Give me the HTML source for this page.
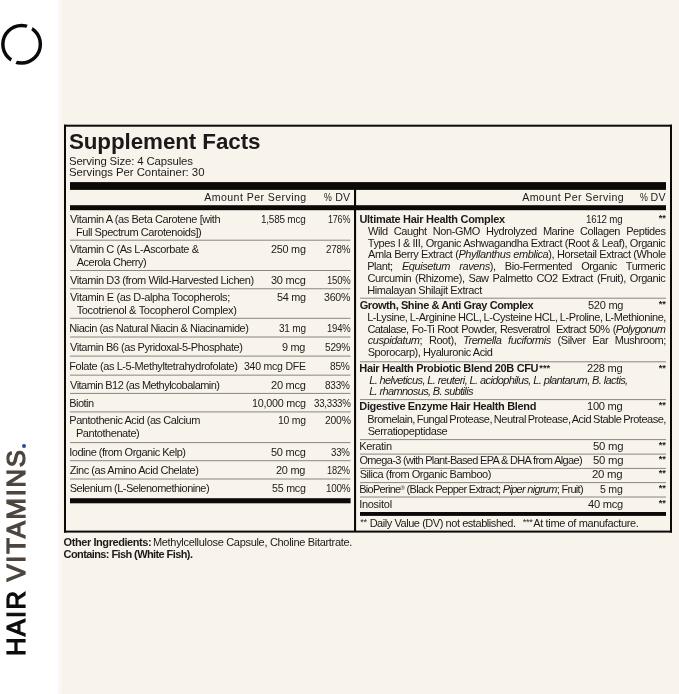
<!DOCTYPE html>
<html><head><meta charset='utf-8'><title>Supplement Facts</title><style>
html,body{margin:0;padding:0}
body{width:679px;height:694px;position:relative;overflow:hidden;background:#f8f4ec;font-family:"Liberation Sans",sans-serif;color:#1c1a18}
.t{position:absolute;white-space:pre;line-height:1;font-size:11px}
.t u{display:inline-block;width:0;height:0;vertical-align:baseline}
.t i{font-style:italic}
.r{position:absolute}
.txt{position:absolute;left:0;top:0;width:679px;height:694px;will-change:transform}
.side{position:absolute;left:0;top:0;width:57px;height:694px;background:#fff}
.side2{position:absolute;left:57px;top:0;width:5px;height:694px;background:linear-gradient(90deg,#fdfcfa,#f9f6f0)}
.dot{position:absolute;left:21.7px;top:443.9px;width:4.6px;height:4.6px;border-radius:50%;background:#2749a8}
</style></head><body>
<div class='side'></div><div class='side2'></div>
<svg class='r' style='left:0;top:18px' width='48' height='54' viewBox='0 18 48 54'><circle cx='21.6' cy='44.3' r='18.75' fill='none' stroke='#0b0a09' stroke-width='3.5'/><line x1='32.63' y1='20.76' x2='10.57' y2='67.84' stroke='#fff' stroke-width='5.5'/></svg>
<div class='dot'></div>
<svg class='r' style='left:0;top:0' width='679' height='694' viewBox='0 0 679 694'><rect x='64' y='124.70' width='608.00' height='2.00' fill='#0b0a09'/><rect x='64' y='530.60' width='608.00' height='2.00' fill='#0b0a09'/><rect x='64' y='124.70' width='2.00' height='407.90' fill='#0b0a09'/><rect x='670' y='124.70' width='2.00' height='407.90' fill='#0b0a09'/><rect x='70' y='182.10' width='596.00' height='7.80' fill='#0b0a09'/><rect x='70' y='205.20' width='596.00' height='5.00' fill='#0b0a09'/><rect x='354' y='189.00' width='2.10' height='343.00' fill='#0b0a09'/><rect x='70' y='498.20' width='280.60' height='5.10' fill='#0b0a09'/><rect x='360' y='512.00' width='306.00' height='3.90' fill='#0b0a09'/><rect x='70' y='239.70' width='280.50' height='1.00' fill='#8a8680'/><rect x='70' y='270.00' width='280.50' height='1.00' fill='#8a8680'/><rect x='70' y='288.25' width='280.50' height='1.00' fill='#8a8680'/><rect x='70' y='317.80' width='280.50' height='1.00' fill='#8a8680'/><rect x='70' y='336.50' width='280.50' height='1.00' fill='#8a8680'/><rect x='70' y='355.60' width='280.50' height='1.00' fill='#8a8680'/><rect x='70' y='374.65' width='280.50' height='1.00' fill='#8a8680'/><rect x='70' y='392.90' width='280.50' height='1.00' fill='#8a8680'/><rect x='70' y='411.40' width='280.50' height='1.00' fill='#8a8680'/><rect x='70' y='442.10' width='280.50' height='1.00' fill='#8a8680'/><rect x='70' y='460.20' width='280.50' height='1.00' fill='#8a8680'/><rect x='70' y='478.50' width='280.50' height='1.00' fill='#8a8680'/><rect x='360' y='297.70' width='306.00' height='1.00' fill='#8a8680'/><rect x='360' y='361.30' width='306.00' height='1.00' fill='#8a8680'/><rect x='360' y='399.10' width='306.00' height='1.00' fill='#8a8680'/><rect x='360' y='439.10' width='306.00' height='1.00' fill='#8a8680'/><rect x='360' y='453.60' width='306.00' height='1.00' fill='#8a8680'/><rect x='360' y='467.90' width='306.00' height='1.00' fill='#8a8680'/><rect x='360' y='482.10' width='306.00' height='1.00' fill='#8a8680'/><rect x='360' y='496.50' width='306.00' height='1.00' fill='#8a8680'/></svg>
<div class='txt'><span class='t' style='font-size:22.4px;font-weight:700;letter-spacing:-0.087px;left:68.95px;top:130.60px'>Supplement Facts</span>
<span class='t' style='font-size:11.4px;font-weight:400;letter-spacing:-0.141px;left:68.94px;top:155.90px'>Serving Size: 4 Capsules</span>
<span class='t' style='font-size:11.4px;font-weight:400;letter-spacing:-0.049px;left:68.94px;top:166.60px'>Servings Per Container: 30</span>
<span class='t' style='font-size:10.6px;font-weight:400;letter-spacing:0.428px;left:204.20px;top:192.00px'>Amount Per Serving</span>
<span class='t' style='font-size:10.6px;font-weight:400;letter-spacing:-0.25px;transform-origin:0 0;transform:scaleX(0.8319);left:324.22px;top:192.00px'>%</span>
<span class='t' style='font-size:10.6px;font-weight:400;letter-spacing:0.158px;left:335.17px;top:192.00px'>DV</span>
<span class='t' style='font-size:10.6px;font-weight:400;letter-spacing:0.387px;left:522.20px;top:192.00px'>Amount Per Serving</span>
<span class='t' style='font-size:10.6px;font-weight:400;letter-spacing:-0.25px;transform-origin:0 0;transform:scaleX(0.8319);left:639.52px;top:192.00px'>%</span>
<span class='t' style='font-size:10.6px;font-weight:400;letter-spacing:0.258px;left:650.57px;top:192.00px'>DV</span>
<span class='t' style='font-size:11px;font-weight:400;letter-spacing:-0.411px;left:70.10px;top:213.80px'>Vitamin A (as Beta Carotene [with</span>
<span class='t' style='font-size:11px;font-weight:400;letter-spacing:-0.428px;left:75.94px;top:226.80px'>Full Spectrum Carotenoids])</span>
<span class='t' style='font-size:11px;font-weight:400;letter-spacing:-0.25px;transform-origin:0 0;transform:scaleX(0.9049);left:260.98px;top:213.80px'>1,585 mcg</span>
<span class='t' style='font-size:11px;font-weight:400;letter-spacing:-0.25px;transform-origin:0 0;transform:scaleX(0.8189);left:327.94px;top:213.80px'>176%</span>
<span class='t' style='font-size:11px;font-weight:400;letter-spacing:-0.418px;left:70.10px;top:243.60px'>Vitamin C (As L-Ascorbate &amp;</span>
<span class='t' style='font-size:11px;font-weight:400;letter-spacing:-0.519px;left:76.80px;top:256.60px'>Acerola Cherry)</span>
<span class='t' style='font-size:11px;font-weight:400;letter-spacing:-0.25px;transform-origin:0 0;transform:scaleX(0.9849);left:270.79px;top:243.60px'>250 mg</span>
<span class='t' style='font-size:11px;font-weight:400;letter-spacing:-0.25px;transform-origin:0 0;transform:scaleX(0.8927);left:325.94px;top:243.60px'>278%</span>
<span class='t' style='font-size:11px;font-weight:400;letter-spacing:-0.411px;left:70.10px;top:274.70px'>Vitamin D3 (from Wild-Harvested Lichen)</span>
<span class='t' style='font-size:11px;font-weight:400;letter-spacing:-0.25px;transform-origin:0 0;transform:scaleX(0.9980);left:270.96px;top:274.70px'>30 mcg</span>
<span class='t' style='font-size:11px;font-weight:400;letter-spacing:-0.25px;transform-origin:0 0;transform:scaleX(0.8644);left:326.71px;top:274.70px'>150%</span>
<span class='t' style='font-size:11px;font-weight:400;letter-spacing:-0.360px;left:70.10px;top:292.40px'>Vitamin E (as D-alpha Tocopherols;</span>
<span class='t' style='font-size:11px;font-weight:400;letter-spacing:-0.314px;left:76.63px;top:305.20px'>Tocotrienol &amp; Tocopherol Complex)</span>
<span class='t' style='font-size:11px;font-weight:400;letter-spacing:-0.25px;transform-origin:0 0;transform:scaleX(0.9854);left:276.56px;top:292.40px'>54 mg</span>
<span class='t' style='font-size:11px;font-weight:400;letter-spacing:-0.25px;transform-origin:0 0;transform:scaleX(0.9619);left:324.07px;top:292.40px'>360%</span>
<span class='t' style='font-size:11px;font-weight:400;letter-spacing:-0.489px;left:69.24px;top:323.00px'>Niacin (as Natural Niacin &amp; Niacinamide)</span>
<span class='t' style='font-size:11px;font-weight:400;letter-spacing:-0.25px;transform-origin:0 0;transform:scaleX(0.9121);left:278.69px;top:323.00px'>31 mg</span>
<span class='t' style='font-size:11px;font-weight:400;letter-spacing:-0.25px;transform-origin:0 0;transform:scaleX(0.8644);left:326.71px;top:323.00px'>194%</span>
<span class='t' style='font-size:11px;font-weight:400;letter-spacing:-0.458px;left:70.10px;top:342.20px'>Vitamin B6 (as Pyridoxal-5-Phosphate)</span>
<span class='t' style='font-size:11px;font-weight:400;letter-spacing:-0.25px;transform-origin:0 0;transform:scaleX(0.9874);left:282.29px;top:342.20px'>9 mg</span>
<span class='t' style='font-size:11px;font-weight:400;letter-spacing:-0.25px;transform-origin:0 0;transform:scaleX(0.9207);left:325.18px;top:342.20px'>529%</span>
<span class='t' style='font-size:11px;font-weight:400;letter-spacing:-0.414px;left:69.24px;top:361.00px'>Folate (as L-5-Methyltetrahydrofolate)</span>
<span class='t' style='font-size:11px;font-weight:400;letter-spacing:-0.25px;transform-origin:0 0;transform:scaleX(0.9571);left:243.57px;top:361.00px'>340 mcg DFE</span>
<span class='t' style='font-size:11px;font-weight:400;letter-spacing:-0.25px;transform-origin:0 0;transform:scaleX(0.9252);left:330.48px;top:361.00px'>85%</span>
<span class='t' style='font-size:11px;font-weight:400;letter-spacing:-0.543px;left:70.10px;top:379.80px'>Vitamin B12 (as Methylcobalamin)</span>
<span class='t' style='font-size:11px;font-weight:400;letter-spacing:-0.25px;transform-origin:0 0;transform:scaleX(1.0031);left:270.78px;top:379.80px'>20 mcg</span>
<span class='t' style='font-size:11px;font-weight:400;letter-spacing:-0.25px;transform-origin:0 0;transform:scaleX(0.9095);left:325.49px;top:379.80px'>833%</span>
<span class='t' style='font-size:11px;font-weight:400;letter-spacing:-0.551px;left:69.24px;top:397.60px'>Biotin</span>
<span class='t' style='font-size:11px;font-weight:400;letter-spacing:-0.25px;transform-origin:0 0;transform:scaleX(0.9791);left:251.63px;top:397.60px'>10,000 mcg</span>
<span class='t' style='font-size:11px;font-weight:400;letter-spacing:-0.25px;transform-origin:0 0;transform:scaleX(0.8797);left:313.50px;top:397.60px'>33,333%</span>
<span class='t' style='font-size:11px;font-weight:400;letter-spacing:-0.443px;left:69.24px;top:414.70px'>Pantothenic Acid (as Calcium</span>
<span class='t' style='font-size:11px;font-weight:400;letter-spacing:-0.441px;left:75.94px;top:427.80px'>Pantothenate)</span>
<span class='t' style='font-size:11px;font-weight:400;letter-spacing:-0.25px;transform-origin:0 0;transform:scaleX(0.9479);left:277.65px;top:414.70px'>10 mg</span>
<span class='t' style='font-size:11px;font-weight:400;letter-spacing:-0.25px;transform-origin:0 0;transform:scaleX(0.9455);left:324.51px;top:414.70px'>200%</span>
<span class='t' style='font-size:11px;font-weight:400;letter-spacing:-0.491px;left:69.24px;top:446.50px'>Iodine (from Organic Kelp)</span>
<span class='t' style='font-size:11px;font-weight:400;letter-spacing:-0.25px;transform-origin:0 0;transform:scaleX(0.9980);left:270.96px;top:446.50px'>50 mcg</span>
<span class='t' style='font-size:11px;font-weight:400;letter-spacing:-0.25px;transform-origin:0 0;transform:scaleX(0.8821);left:331.40px;top:446.50px'>33%</span>
<span class='t' style='font-size:11px;font-weight:400;letter-spacing:-0.449px;left:69.76px;top:464.90px'>Zinc (as Amino Acid Chelate)</span>
<span class='t' style='font-size:11px;font-weight:400;letter-spacing:-0.25px;transform-origin:0 0;transform:scaleX(0.9914);left:276.39px;top:464.90px'>20 mg</span>
<span class='t' style='font-size:11px;font-weight:400;letter-spacing:-0.25px;transform-origin:0 0;transform:scaleX(0.8417);left:327.32px;top:464.90px'>182%</span>
<span class='t' style='font-size:11px;font-weight:400;letter-spacing:-0.510px;left:69.76px;top:483.40px'>Selenium (L-Selenomethionine)</span>
<span class='t' style='font-size:11px;font-weight:400;letter-spacing:-0.25px;transform-origin:0 0;transform:scaleX(0.9715);left:271.87px;top:483.40px'>55 mcg</span>
<span class='t' style='font-size:11px;font-weight:400;letter-spacing:-0.25px;transform-origin:0 0;transform:scaleX(0.8986);left:325.78px;top:483.40px'>100%</span>
<span class='t' style='font-size:11px;font-weight:700;letter-spacing:-0.311px;left:359.48px;top:213.50px'>Ultimate Hair Health Complex</span>
<span class='t' style='font-size:11px;font-weight:400;letter-spacing:-0.25px;transform-origin:0 0;transform:scaleX(0.8848);left:586.49px;top:213.50px'>1612 mg</span>
<span class='t' style='font-size:9.2px;font-weight:700;left:658.63px;top:213.60px'>**</span>
<span class='t' style='font-size:11px;font-weight:400;letter-spacing:-0.430px;word-spacing:3.496px;left:368.00px;top:225.60px'>Wild Caught Non-GMO Hydrolyzed Marine Collagen Peptides</span>
<span class='t' style='font-size:11px;font-weight:400;letter-spacing:-0.430px;word-spacing:0.018px;left:367.83px;top:237.50px'>Types I &amp; III, Organic Ashwagandha Extract (Root &amp; Leaf), Organic</span>
<span class='t' style='font-size:11px;font-weight:400;letter-spacing:-0.430px;word-spacing:0.196px;left:368.00px;top:249.30px'>Amla Berry Extract (<i>Phyllanthus emblica</i>), Horsetail Extract (Whole</span>
<span class='t' style='font-size:11px;font-weight:400;letter-spacing:-0.430px;word-spacing:6.622px;left:367.14px;top:261.10px'>Plant; <i>Equisetum ravens</i>), Bio-Fermented Organic Turmeric</span>
<span class='t' style='font-size:11px;font-weight:400;letter-spacing:-0.430px;word-spacing:1.325px;left:367.48px;top:272.90px'>Curcumin (Rhizome), Saw Palmetto CO2 Extract (Fruit), Organic</span>
<span class='t' style='font-size:11px;font-weight:400;letter-spacing:-0.384px;left:367.14px;top:284.80px'>Himalayan Shilajit Extract</span>
<span class='t' style='font-size:11px;font-weight:700;letter-spacing:-0.414px;left:359.66px;top:299.90px'>Growth, Shine &amp; Anti Gray Complex</span>
<span class='t' style='font-size:11px;font-weight:400;letter-spacing:-0.25px;transform-origin:0 0;transform:scaleX(1.0002);left:587.66px;top:299.90px'>520 mg</span>
<span class='t' style='font-size:9.2px;font-weight:700;left:658.63px;top:300.00px'>**</span>
<span class='t' style='font-size:11px;font-weight:400;letter-spacing:-0.430px;word-spacing:-0.318px;left:367.14px;top:311.80px'>L-Lysine, L-Arginine HCL, L-Cysteine HCL, L-Proline, L-Methionine,</span>
<span class='t' style='font-size:11px;font-weight:400;letter-spacing:-0.600px;word-spacing:0.744px;left:367.48px;top:323.60px'>Catalase, Fo-Ti Root Powder, Resveratrol&nbsp; Extract 50% (<i>Polygonum</i></span>
<span class='t' style='font-size:11px;font-weight:400;letter-spacing:-0.430px;word-spacing:4.028px;left:367.66px;top:335.40px'><i>cuspidatum</i>; Root), <i>Tremella fuciformis</i> (Silver Ear Mushroom;</span>
<span class='t' style='font-size:11px;font-weight:400;letter-spacing:-0.426px;left:367.66px;top:347.20px'>Sporocarp), Hyaluronic Acid</span>
<span class='t' style='font-size:11px;font-weight:700;letter-spacing:-0.355px;left:359.31px;top:363.40px'>Hair Health Probiotic Blend 20B CFU</span>
<span class='t' style='font-size:11px;font-weight:400;letter-spacing:-0.25px;transform-origin:0 0;transform:scaleX(1.0052);left:587.48px;top:363.40px'>228 mg</span>
<span class='t' style='font-size:9.2px;font-weight:700;left:658.63px;top:363.50px'>**</span>
<span class='t' style='font-size:9.2px;font-weight:700;letter-spacing:0.126px;left:539.20px;top:363.50px'>***</span>
<span class='t' style='font-size:11px;font-weight:400;letter-spacing:-0.605px;left:369.13px;top:374.80px'><i>L. helveticus, L. reuteri, L. acidophilus, L. plantarum, B. lactis,</i></span>
<span class='t' style='font-size:11px;font-weight:400;letter-spacing:-0.646px;left:369.13px;top:386.00px'><i>L. rhamnosus, B. subtilis</i></span>
<span class='t' style='font-size:11px;font-weight:700;letter-spacing:-0.339px;left:359.31px;top:401.00px'>Digestive Enzyme Hair Health Blend</span>
<span class='t' style='font-size:11px;font-weight:400;letter-spacing:-0.25px;transform-origin:0 0;transform:scaleX(1.0103);left:587.31px;top:401.00px'>100 mg</span>
<span class='t' style='font-size:9.2px;font-weight:700;left:658.63px;top:401.10px'>**</span>
<span class='t' style='font-size:11px;font-weight:400;letter-spacing:-0.487px;word-spacing:-0.700px;left:367.14px;top:414.10px'>Bromelain, Fungal Protease, Neutral Protease, Acid Stable Protease,</span>
<span class='t' style='font-size:11px;font-weight:400;letter-spacing:-0.384px;left:367.66px;top:425.70px'>Serratiopeptidase</span>
<span class='t' style='font-size:11px;font-weight:400;letter-spacing:-0.330px;left:359.14px;top:441.10px'>Keratin</span>
<span class='t' style='font-size:11px;font-weight:400;letter-spacing:-0.25px;transform-origin:0 0;transform:scaleX(1.0309);left:592.65px;top:441.10px'>50 mg</span>
<span class='t' style='font-size:9.2px;font-weight:700;left:658.63px;top:441.20px'>**</span>
<span class='t' style='font-size:11px;font-weight:400;letter-spacing:-0.675px;left:359.48px;top:454.90px'>Omega-3 (with Plant-Based EPA &amp; DHA from Algae)</span>
<span class='t' style='font-size:11px;font-weight:400;letter-spacing:-0.25px;transform-origin:0 0;transform:scaleX(1.0309);left:592.65px;top:454.90px'>50 mg</span>
<span class='t' style='font-size:9.2px;font-weight:700;left:658.63px;top:455.00px'>**</span>
<span class='t' style='font-size:11px;font-weight:400;letter-spacing:-0.465px;left:359.66px;top:469.30px'>Silica (from Organic Bamboo)</span>
<span class='t' style='font-size:11px;font-weight:400;letter-spacing:-0.25px;transform-origin:0 0;transform:scaleX(1.0371);left:592.47px;top:469.30px'>20 mg</span>
<span class='t' style='font-size:9.2px;font-weight:700;left:658.63px;top:469.40px'>**</span>
<span class='t' style='font-size:11px;font-weight:400;letter-spacing:-0.705px;left:359.14px;top:483.70px'>BioPerine<span style='font-size:6px;vertical-align:3px'>&reg;</span> (Black Pepper Extract; <i>Piper nigrum</i>; Fruit)</span>
<span class='t' style='font-size:11px;font-weight:400;letter-spacing:-0.25px;transform-origin:0 0;transform:scaleX(0.9623);left:600.27px;top:483.70px'>5 mg</span>
<span class='t' style='font-size:9.2px;font-weight:700;left:658.63px;top:483.80px'>**</span>
<span class='t' style='font-size:11px;font-weight:400;letter-spacing:-0.268px;left:359.14px;top:498.70px'>Inositol</span>
<span class='t' style='font-size:11px;font-weight:400;letter-spacing:-0.25px;transform-origin:0 0;transform:scaleX(1.0136);left:587.83px;top:498.70px'>40 mcg</span>
<span class='t' style='font-size:9.2px;font-weight:700;left:658.63px;top:498.80px'>**</span>
<span class='t' style='font-size:9.2px;font-weight:400;letter-spacing:-0.382px;left:360.26px;top:517.70px'>**</span>
<span class='t' style='font-size:11px;font-weight:400;letter-spacing:-0.446px;left:369.64px;top:517.60px'>Daily Value (DV) not established.</span>
<span class='t' style='font-size:9.2px;font-weight:400;letter-spacing:-0.380px;left:522.76px;top:517.70px'>***</span>
<span class='t' style='font-size:11px;font-weight:400;letter-spacing:-0.374px;left:533.30px;top:517.60px'>At time of manufacture.</span>
<span class='t' style='font-size:11px;font-weight:700;letter-spacing:-0.423px;left:63.56px;top:536.80px'>Other Ingredients:</span>
<span class='t' style='font-size:11px;font-weight:400;letter-spacing:-0.310px;left:152.94px;top:536.80px'>Methylcellulose Capsule, Choline Bitartrate.</span>
<span class='t' style='font-size:11px;font-weight:700;letter-spacing:-0.594px;left:63.56px;top:549.10px'>Contains: Fish (White Fish).</span>
<span class='t' style='font-size:25.7px;font-weight:400;-webkit-text-stroke:1.2px #0d0c0b;letter-spacing:1.241px;color:#0d0c0b;left:0;top:0;transform-origin:0 0;transform:translate(4.40px,656.11px) rotate(-90deg)'>HAIR</span>
<span class='t' style='font-size:25.7px;font-weight:400;-webkit-text-stroke:1.2px #4b453e;letter-spacing:1.710px;color:#4b453e;left:0;top:0;transform-origin:0 0;transform:translate(4.40px,581.50px) rotate(-90deg)'>VITAMINS</span></div>
</body></html>
